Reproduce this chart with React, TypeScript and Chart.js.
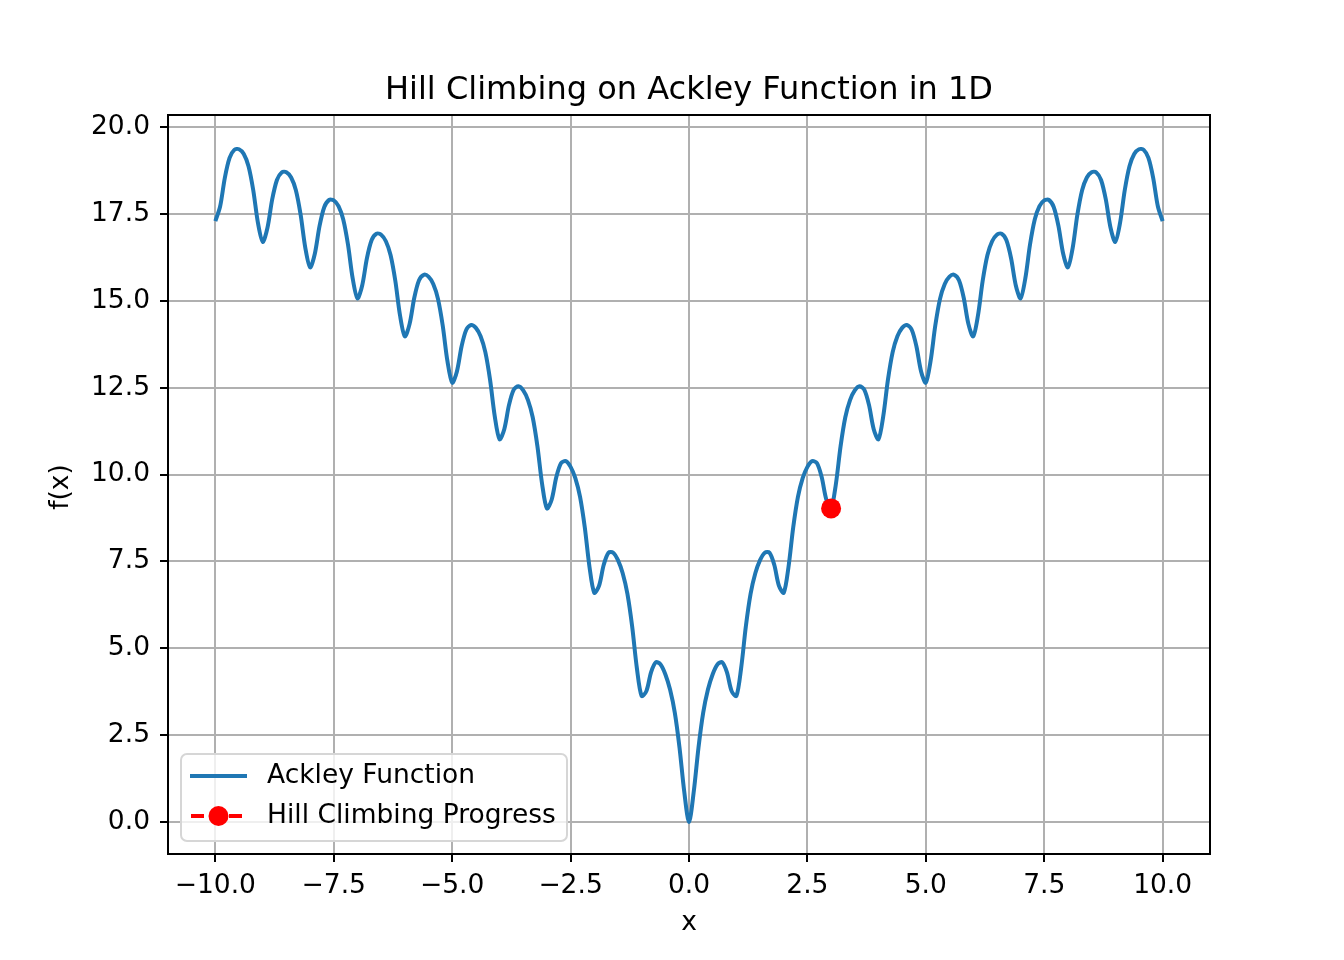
import { useEffect, useRef } from "react";
import { Chart, registerables } from "chart.js";

Chart.register(...registerables);

const xValues = [
  -10.0, -9.9, -9.8, -9.7, -9.6, -9.5, -9.4, -9.3, -9.2, -9.1,
  -9.0, -8.9, -8.8, -8.7, -8.6, -8.5, -8.4, -8.3, -8.2, -8.1,
  -8.0, -7.9, -7.8, -7.7, -7.6, -7.5, -7.4, -7.3, -7.2, -7.1,
  -7.0, -6.9, -6.8, -6.7, -6.6, -6.5, -6.4, -6.3, -6.2, -6.1,
  -6.0, -5.9, -5.8, -5.7, -5.6, -5.5, -5.4, -5.3, -5.2, -5.1,
  -5.0, -4.9, -4.8, -4.7, -4.6, -4.5, -4.4, -4.3, -4.2, -4.1,
  -4.0, -3.9, -3.8, -3.7, -3.6, -3.5, -3.4, -3.3, -3.2, -3.1,
  -3.0, -2.9, -2.8, -2.7, -2.6, -2.5, -2.4, -2.3, -2.2, -2.1,
  -2.0, -1.9, -1.8, -1.7, -1.6, -1.5, -1.4, -1.3, -1.2, -1.1,
  -1.0, -0.9, -0.8, -0.7, -0.6, -0.5, -0.4, -0.3, -0.2, -0.1,
  0.0,
  0.1, 0.2, 0.3, 0.4, 0.5, 0.6, 0.7, 0.8, 0.9, 1.0,
  1.1, 1.2, 1.3, 1.4, 1.5, 1.6, 1.7, 1.8, 1.9, 2.0,
  2.1, 2.2, 2.3, 2.4, 2.5, 2.6, 2.7, 2.8, 2.9, 3.0,
  3.1, 3.2, 3.3, 3.4, 3.5, 3.6, 3.7, 3.8, 3.9, 4.0,
  4.1, 4.2, 4.3, 4.4, 4.5, 4.6, 4.7, 4.8, 4.9, 5.0,
  5.1, 5.2, 5.3, 5.4, 5.5, 5.6, 5.7, 5.8, 5.9, 6.0,
  6.1, 6.2, 6.3, 6.4, 6.5, 6.6, 6.7, 6.8, 6.9, 7.0,
  7.1, 7.2, 7.3, 7.4, 7.5, 7.6, 7.7, 7.8, 7.9, 8.0,
  8.1, 8.2, 8.3, 8.4, 8.5, 8.6, 8.7, 8.8, 8.9, 9.0,
  9.1, 9.2, 9.3, 9.4, 9.5, 9.6, 9.7, 9.8, 9.9, 10.0,
];

const ackleyValues = [
  17.293, 17.711, 18.539, 19.110, 19.341, 19.359, 19.221, 18.871, 18.180, 17.232,
  16.694, 17.100, 17.915, 18.474, 18.692, 18.697, 18.546, 18.181, 17.477, 16.515,
  15.962, 16.353, 17.154, 17.697, 17.899, 17.888, 17.720, 17.339, 16.618, 15.638,
  15.068, 15.441, 16.223, 16.747, 16.930, 16.900, 16.712, 16.311, 15.569, 14.568,
  13.976, 14.327, 15.087, 15.588, 15.747, 15.693, 15.481, 15.055, 14.287, 13.261,
  12.642, 12.966, 13.698, 14.172, 14.303, 14.219, 13.977, 13.521, 12.722, 11.664,
  11.013, 11.305, 12.003, 12.442, 12.538, 12.419, 12.141, 11.647, 10.810, 9.714,
  9.024, 9.275, 9.932, 10.329, 10.383, 10.220, 9.897, 9.358, 8.476, 7.332,
  6.594, 6.795, 7.403, 7.749, 7.750, 7.534, 7.157, 6.563, 5.624, 4.422,
  3.625, 3.767, 4.313, 4.597, 4.535, 4.254, 3.811, 3.149, 2.140, 0.869,
  0.000,
  0.869, 2.140, 3.149, 3.811, 4.254, 4.535, 4.597, 4.313, 3.767, 3.625,
  4.422, 5.624, 6.563, 7.157, 7.534, 7.750, 7.749, 7.403, 6.795, 6.594,
  7.332, 8.476, 9.358, 9.897, 10.220, 10.383, 10.329, 9.932, 9.275, 9.024,
  9.714, 10.810, 11.647, 12.141, 12.419, 12.538, 12.442, 12.003, 11.305, 11.013,
  11.664, 12.722, 13.521, 13.977, 14.219, 14.303, 14.172, 13.698, 12.966, 12.642,
  13.261, 14.287, 15.055, 15.481, 15.693, 15.747, 15.588, 15.087, 14.327, 13.976,
  14.568, 15.569, 16.311, 16.712, 16.900, 16.930, 16.747, 16.223, 15.441, 15.068,
  15.638, 16.618, 17.339, 17.720, 17.888, 17.899, 17.697, 17.154, 16.353, 15.962,
  16.515, 17.477, 18.181, 18.546, 18.697, 18.692, 18.474, 17.915, 17.100, 16.694,
  17.232, 18.180, 18.871, 19.221, 19.359, 19.341, 19.110, 18.539, 17.711, 17.293,
];

const progressX = [3.0];
const progressY = [9.024];

const xTicks = [-10, -7.5, -5, -2.5, 0, 2.5, 5, 7.5, 10];
const yTicks = [0, 2.5, 5, 7.5, 10, 12.5, 15, 17.5, 20];

const titleText = "Hill Climbing on Ackley Function in 1D";
const xLabel = "x";
const yLabel = "f(x)";
const legendLabels = ["Ackley Function", "Hill Climbing Progress"];

const BLUE = "#1f77b4";
const RED = "#ff0000";
const FONT = '"DejaVu Sans"';
const FS = 26.5;

const fmt = (v: number) => (v < 0 ? "\u2212" : "") + Math.abs(v).toFixed(1);

const decorPlugin = {
  id: "decor",
  afterDraw(chart: any) {
    const { ctx, chartArea } = chart;
    const { left, right, top, bottom } = chartArea;
    ctx.save();
    // frame
    ctx.strokeStyle = "#000";
    ctx.lineWidth = 2;
    ctx.strokeRect(left, top, right - left, bottom - top);

    // title
    ctx.fillStyle = "#000";
    ctx.textAlign = "center";
    ctx.textBaseline = "alphabetic";
    ctx.font = `32px ${FONT}`;
    ctx.fillText(titleText, (left + right) / 2, top - 16);

    // axis labels
    ctx.font = `${FS}px ${FONT}`;
    ctx.fillText(xLabel, (left + right) / 2, 930);
    ctx.save();
    ctx.translate(61, 487);
    ctx.rotate(-Math.PI / 2);
    ctx.textBaseline = "middle";
    ctx.fillText(yLabel, 0, 0);
    ctx.restore();

    // legend
    const lx = left + 13;
    const ly = bottom - 100;
    const lw = 386;
    const lh = 87;
    const r = 6;
    ctx.beginPath();
    ctx.moveTo(lx + r, ly);
    ctx.lineTo(lx + lw - r, ly);
    ctx.arcTo(lx + lw, ly, lx + lw, ly + r, r);
    ctx.lineTo(lx + lw, ly + lh - r);
    ctx.arcTo(lx + lw, ly + lh, lx + lw - r, ly + lh, r);
    ctx.lineTo(lx + r, ly + lh);
    ctx.arcTo(lx, ly + lh, lx, ly + lh - r, r);
    ctx.lineTo(lx, ly + r);
    ctx.arcTo(lx, ly, lx + r, ly, r);
    ctx.closePath();
    ctx.fillStyle = "rgba(255,255,255,0.8)";
    ctx.fill();
    ctx.strokeStyle = "#d6d6d6";
    ctx.lineWidth = 2;
    ctx.stroke();

    const y1 = ly + 22;
    const y2 = ly + 62;
    const hx0 = lx + 9;
    const hx1 = lx + 66;
    ctx.strokeStyle = BLUE;
    ctx.lineWidth = 4;
    ctx.beginPath();
    ctx.moveTo(hx0, y1);
    ctx.lineTo(hx1, y1);
    ctx.stroke();

    ctx.strokeStyle = RED;
    ctx.setLineDash([13, 6]);
    ctx.beginPath();
    ctx.moveTo(hx0 + 1, y2);
    ctx.lineTo(hx1, y2);
    ctx.stroke();
    ctx.setLineDash([]);
    ctx.fillStyle = RED;
    ctx.beginPath();
    ctx.arc((hx0 + hx1) / 2, y2, 10, 0, Math.PI * 2);
    ctx.fill();

    ctx.fillStyle = "#000";
    ctx.font = `${FS}px ${FONT}`;
    ctx.textAlign = "left";
    ctx.textBaseline = "middle";
    ctx.fillText(legendLabels[0], lx + 86, y1);
    ctx.fillText(legendLabels[1], lx + 86, y2);
    ctx.restore();
  },
};

export default function App() {
  const canvasRef = useRef<HTMLCanvasElement | null>(null);

  useEffect(() => {
    document.body.style.margin = "0";
    const canvas = canvasRef.current;
    if (!canvas) return;

    const ackleyData = xValues.map((x, i) => ({ x, y: ackleyValues[i] }));
    const progressData = progressX.map((x, i) => ({ x, y: progressY[i] }));

    const tickFont = { family: "DejaVu Sans", size: FS };
    const gridOpts = {
      color: "#b0b0b0",
      lineWidth: 2,
      tickColor: "#000",
      tickLength: 8,
      drawTicks: true,
    };

    const chart = new Chart(canvas, {
      type: "line",
      data: {
        datasets: [
          {
            label: legendLabels[1],
            data: progressData,
            borderColor: RED,
            backgroundColor: RED,
            borderDash: [13, 6],
            borderWidth: 4,
            pointRadius: 10,
            pointBorderWidth: 0,
            pointBackgroundColor: RED,
            showLine: true,
          },
          {
            label: legendLabels[0],
            data: ackleyData,
            borderColor: BLUE,
            backgroundColor: BLUE,
            borderWidth: 4,
            pointRadius: 0,
            tension: 0.3,
            fill: false,
          },
        ],
      },
      options: {
        responsive: false,
        animation: false,
        devicePixelRatio: 1,
        layout: { padding: { top: 115, right: 134, left: 0, bottom: 0 } },
        plugins: {
          legend: { display: false },
          title: { display: false },
          tooltip: { enabled: false },
        },
        scales: {
          x: {
            type: "linear",
            min: -11,
            max: 11,
            afterBuildTicks: (s: any) => {
              s.ticks = xTicks.map((v) => ({ value: v }));
            },
            afterFit: (s: any) => {
              s.height = 106;
            },
            grid: gridOpts,
            border: { display: false },
            ticks: {
              font: tickFont,
              color: "#000",
              padding: 8,
              maxRotation: 0,
              autoSkip: false,
              callback: (v: any) => fmt(Number(v)),
            },
          },
          y: {
            type: "linear",
            min: -0.92,
            max: 20.345,
            afterBuildTicks: (s: any) => {
              s.ticks = yTicks.map((v) => ({ value: v }));
            },
            afterFit: (s: any) => {
              s.width = 168;
            },
            grid: gridOpts,
            border: { display: false },
            ticks: {
              font: tickFont,
              color: "#000",
              padding: 10,
              autoSkip: false,
              callback: (v: any) => fmt(Number(v)),
            },
          },
        },
      },
      plugins: [decorPlugin],
    });

    return () => {
      chart.destroy();
    };
  }, []);

  return (
    <div style={{ position: "absolute", left: 0, top: 0, width: 1344, height: 960, background: "#fff" }}>
      <canvas ref={canvasRef} width={1344} height={960} style={{ display: "block" }} />
    </div>
  );
}
